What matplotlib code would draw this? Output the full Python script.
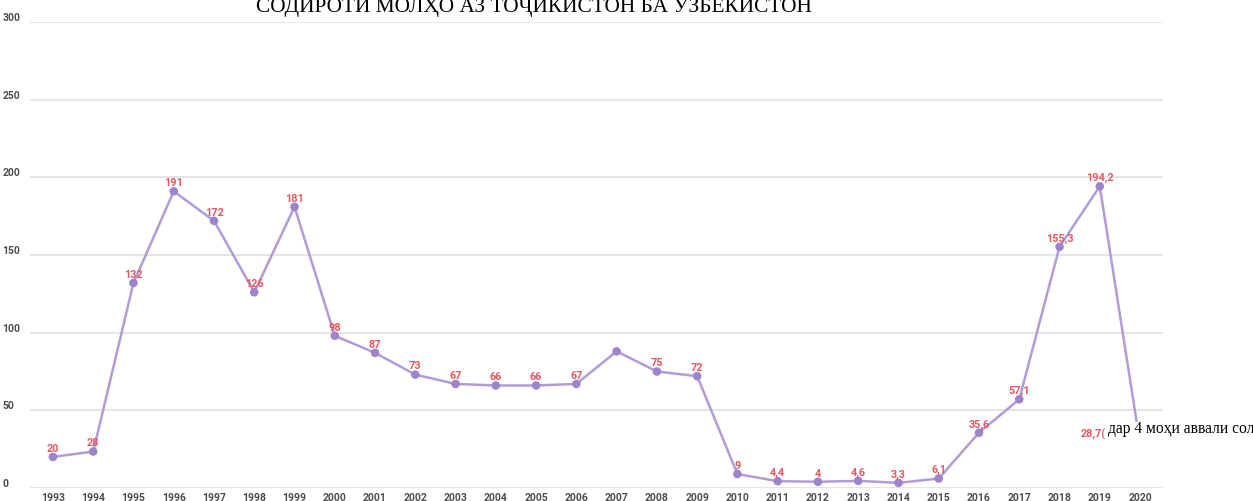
import matplotlib.pyplot as plt
from matplotlib.patches import Rectangle

# Data
years = list(range(1993, 2021))
values = [20, 23.5, 132, 191, 172, 126, 181, 98, 87, 73, 67, 66, 66, 67,
          88, 75, 72, 9, 4.4, 4, 4.6, 3.3, 6.1, 35.6, 57.1, 155.3, 194.2, 28.7]
labels = ['20', '28', '132', '191', '172', '126', '181', '98', '87', '73', '67',
          '66', '66', '67', '', '75', '72', '9', '4,4', '4', '4,6', '3,3', '6,1',
          '35,6', '57,1', '155,3', '194,2', '']
yticks = [0, 50, 100, 150, 200, 250, 300]

title = 'СОДИРОТИ МОЛҲО АЗ ТОҶИКИСТОН БА ӮЗБЕКИСТОН'
note = 'дар 4 моҳи аввали сол'

W, H = 1253, 502
fig = plt.figure(figsize=(W / 100, H / 100), dpi=100)
ax = fig.add_axes([30 / W, 13 / H, (1163 - 30) / W, (489 - 23) / H])

ax.plot(years, values, color='#b09cd6', lw=1.8, zorder=3)
ax.scatter(years, values, s=38, color='#9c85cb', zorder=4, edgecolor='none')

for x, y, t in zip(years, values, labels):
    if t:
        ax.annotate(t, (x, y), xytext=(0, 3), textcoords='offset points',
                    ha='center', va='bottom', fontsize=7.8, color='#e8575f',
                    fontweight='bold', family='Roboto', zorder=5)

ax.set_xlim(1992.43, 2020.57)
ax.set_ylim(0, 300)
ax.set_yticks(yticks)
ax.set_xticks(years)
ax.set_xticklabels([str(y) for y in years])
ax.grid(axis='y', color='#e3e3e3', lw=1.3, zorder=0)
ax.grid(axis='x', visible=False)
for s in ax.spines.values():
    s.set_visible(False)
ax.tick_params(axis='both', length=0, labelsize=7.5, labelcolor='#4d4d4d')
ax.tick_params(axis='x', pad=3)
ax.tick_params(axis='y', pad=20)
for lab in ax.get_yticklabels():
    lab.set_ha('left')
    lab.set_va('bottom')
    lab.set_fontweight('bold')
    lab.set_family('Roboto')
for lab in ax.get_xticklabels():
    lab.set_fontweight('bold')
    lab.set_family('Roboto')

# title, partly cut at the top
fig.text(534 / W, 1 - 12 / H, title, ha='center', va='baseline',
         fontsize=15.4, family='Liberation Serif', color='black')

# 2020 label remnant and overlaid note
ax.annotate('28,7(', (2020, 28.7), xytext=(-25, 7), textcoords='offset points',
            ha='right', va='center', fontsize=7.8, color='#e8575f',
            fontweight='bold', family='Roboto', zorder=5)
fig.patches.append(Rectangle((1106 / W, 1 - 452 / H), 147 / W, 29 / H,
                             transform=fig.transFigure, facecolor='white',
                             edgecolor='none', zorder=5))
fig.text(1108 / W, 1 - 433 / H, note, ha='left', va='baseline',
         fontsize=11.2, family='Liberation Serif', color='black', zorder=6)

fig.savefig('out.png', dpi=100)
